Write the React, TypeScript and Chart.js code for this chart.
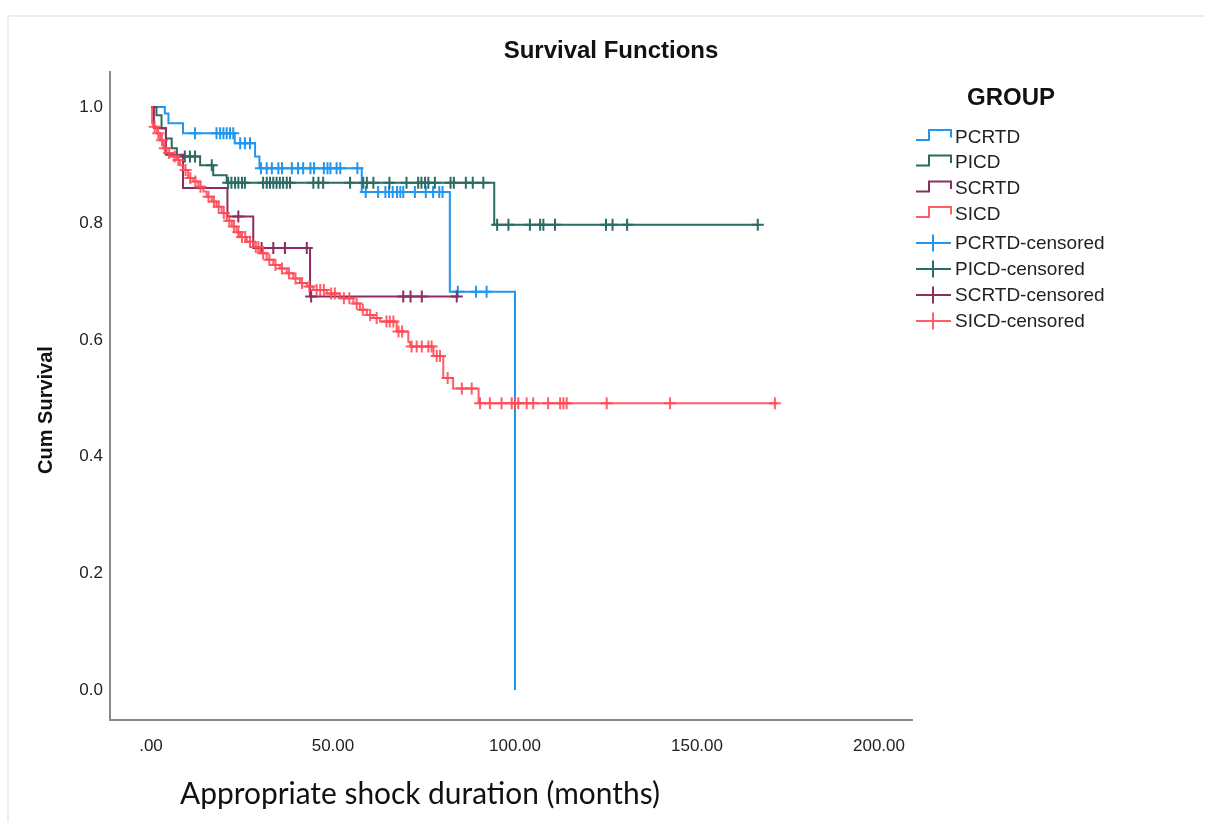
import React, { useEffect, useRef } from "react";
import { Chart, registerables } from "chart.js";

Chart.register(...registerables);

// ---------- data ----------
const TITLE = "Survival Functions";
const X_TITLE = "Appropriate shock duration (months)";
const Y_TITLE = "Cum Survival";
const LEGEND_TITLE = "GROUP";

const X_TICKS = [0, 50, 100, 150, 200];
const Y_TICKS = [0, 0.2, 0.4, 0.6, 0.8, 1.0];

const GROUPS = ["PCRTD", "PICD", "SCRTD", "SICD"];

// PCRTD
const PCRTD_TIMES = [0, 3.8, 4.8, 8.8, 23.0, 28.6, 29.8, 57.9, 82.1, 100.0];
const PCRTD_SURV = [1, 0.989, 0.972, 0.955, 0.938, 0.915, 0.895, 0.854, 0.683, 0];
const PCRTD_CENSORED = [
  12.1, 18.0, 19.0, 19.9, 20.8, 21.7, 22.6, 24.5, 25.8, 27.2, 30.2, 31.8, 33.2, 35.0, 36.0,
  38.7, 40.4, 41.8, 43.8, 44.8, 47.5, 48.5, 49.3, 51.0, 52.0, 56.7, 59.0, 62.4, 64.4, 65.4,
  66.4, 67.6, 68.5, 69.3, 72.5, 75.5, 77.5, 79.2, 80.1, 84.3, 89.3, 92.2,
];

// PICD
const PICD_TIMES = [0, 1.5, 2.9, 4.1, 5.7, 7.1, 13.5, 17.1, 20.8, 94.3, 166.7];
const PICD_SURV = [1, 0.986, 0.963, 0.946, 0.929, 0.915, 0.9, 0.883, 0.87, 0.798, 0.798];
const PICD_CENSORED = [
  9.3, 10.7, 12.1, 16.7, 21.2, 22.1, 23.1, 24.0, 25.0, 25.8, 30.8, 31.8, 32.7, 33.6, 34.5,
  35.4, 36.3, 37.3, 38.2, 44.6, 46.0, 47.3, 54.7, 58.3, 59.3, 61.1, 65.5, 70.2, 73.4, 74.3,
  75.3, 76.2, 78.0, 82.3, 83.2, 86.5, 88.4, 91.3, 95.1, 98.2, 104.1, 106.9, 107.8, 111.0,
  125.0, 126.8, 130.8, 166.7,
];

// SCRTD
const SCRTD_TIMES = [0, 0.8, 4.1, 8.8, 21.0, 28.1, 43.7, 84.0];
const SCRTD_SURV = [1, 0.964, 0.918, 0.861, 0.812, 0.758, 0.675, 0.675];
const SCRTD_CENSORED = [24.0, 30.4, 33.6, 36.8, 42.8, 44.0, 69.3, 71.3, 74.4, 84.0];

// SICD
const SICD_TIMES = [
  0, 0.3, 0.6, 1.6, 2.5, 3.4, 4.3, 5.7, 7.1, 8.0, 8.9, 10.2, 11.6, 13.0, 14.4, 15.3, 16.7,
  18.0, 19.4, 20.8, 22.2, 23.5, 24.5, 26.3, 28.1, 30.0, 31.8, 33.6, 35.4, 37.3, 39.1, 40.9,
  42.8, 44.6, 48.3, 51.9, 55.6, 57.4, 59.3, 61.1, 62.9, 67.5, 70.7, 71.2, 77.6, 80.3, 83.0,
  90.0, 172.0,
];
const SICD_SURV = [
  1, 0.972, 0.966, 0.955, 0.943, 0.929, 0.921, 0.915, 0.909, 0.9, 0.892, 0.878, 0.872, 0.863,
  0.855, 0.846, 0.838, 0.829, 0.818, 0.805, 0.795, 0.785, 0.777, 0.769, 0.76, 0.749, 0.738,
  0.729, 0.723, 0.715, 0.706, 0.698, 0.692, 0.686, 0.68, 0.672, 0.663, 0.652, 0.643, 0.638,
  0.632, 0.615, 0.597, 0.589, 0.573, 0.535, 0.517, 0.492, 0.492,
];
const SICD_CENSORED = [
  1.0, 2.0, 3.0, 3.8, 5.0, 6.5, 7.5, 9.5, 10.8, 12.2, 13.6, 15.8, 17.3, 18.6, 20.0, 21.5,
  22.8, 24.0, 25.0, 25.9, 27.2, 28.8, 29.5, 30.8, 32.5, 34.2, 36.0, 37.9, 39.7, 41.5, 43.5,
  45.5, 46.5, 47.5, 49.5, 50.5, 53.0, 54.5, 56.5, 58.2, 60.2, 62.0, 64.7, 65.6, 66.6, 68.0,
  69.0, 71.6, 73.0, 74.4, 76.2, 77.1, 78.5, 79.4, 81.5, 85.4, 88.1, 90.4, 93.1, 96.3, 99.1,
  100.0, 100.9, 103.2, 105.0, 109.1, 112.4, 113.3, 114.2, 125.2, 142.6, 171.4,
];

// ---------- styles ----------
const COLORS = ["#2196ee", "#2a6b63", "#8e2d5f", "rgba(255,72,84,0.88)"];

const SERIES = [
  { times: PCRTD_TIMES, surv: PCRTD_SURV, cens: PCRTD_CENSORED },
  { times: PICD_TIMES, surv: PICD_SURV, cens: PICD_CENSORED },
  { times: SCRTD_TIMES, surv: SCRTD_SURV, cens: SCRTD_CENSORED },
  { times: SICD_TIMES, surv: SICD_SURV, cens: SICD_CENSORED },
];

function survAt(times: number[], surv: number[], t: number) {
  let v = surv[0];
  for (let i = 0; i < times.length; i++) {
    if (times[i] <= t) v = surv[i];
    else break;
  }
  return v;
}

const SANS = "'Liberation Sans', Arial, Helvetica, sans-serif";

const decorPlugin = {
  id: "decor",
  beforeDraw(chart: any) {
    const ctx = chart.ctx;
    ctx.save();
    ctx.fillStyle = "#ffffff";
    ctx.fillRect(0, 0, chart.width, chart.height);
    ctx.strokeStyle = "#eeeeee";
    ctx.lineWidth = 2;
    ctx.beginPath();
    ctx.moveTo(8, 822);
    ctx.lineTo(8, 16);
    ctx.lineTo(1205, 16);
    ctx.stroke();
    ctx.restore();
  },
  afterDraw(chart: any) {
    const ctx = chart.ctx;
    ctx.save();
    ctx.fillStyle = "#111111";
    ctx.textBaseline = "middle";

    // title
    ctx.textAlign = "center";
    ctx.font = `bold 24px ${SANS}`;
    ctx.fillText(TITLE, 611, 51);

    // y title
    ctx.save();
    ctx.translate(46, 410);
    ctx.rotate(-Math.PI / 2);
    ctx.font = `bold 20px ${SANS}`;
    ctx.fillText(Y_TITLE, 0, 0);
    ctx.restore();

    // x title (Calibri-like)
    ctx.textAlign = "left";
    ctx.font = "28px Lato, 'Open Sans', sans-serif";
    const w = ctx.measureText(X_TITLE).width;
    const size = (28 * 480) / w;
    ctx.font = `${size.toFixed(1)}px Lato, 'Open Sans', sans-serif`;
    ctx.fillText(X_TITLE, 180, 794);

    // legend
    ctx.textAlign = "center";
    ctx.font = `bold 24px ${SANS}`;
    ctx.fillText(LEGEND_TITLE, 1011, 98);

    const rows = [136.5, 162, 188, 213.5, 243, 269, 295, 321];
    const labels = [...GROUPS, ...GROUPS.map((g) => g + "-censored")];
    ctx.font = `19px ${SANS}`;
    ctx.textAlign = "left";
    labels.forEach((lab, i) => {
      const y = rows[i];
      const col = COLORS[i % 4];
      ctx.strokeStyle = col;
      ctx.lineWidth = 2;
      ctx.beginPath();
      if (i < 4) {
        ctx.moveTo(916, y + 3.5);
        ctx.lineTo(929, y + 3.5);
        ctx.lineTo(929, y - 6.5);
        ctx.lineTo(951, y - 6.5);
        ctx.lineTo(951, y + 1);
      } else {
        ctx.moveTo(916, y);
        ctx.lineTo(951, y);
        ctx.moveTo(933, y - 8.5);
        ctx.lineTo(933, y + 8.5);
      }
      ctx.stroke();
      ctx.fillStyle = "#222222";
      ctx.fillText(lab, 955, y + 1);
    });
    ctx.restore();
  },
};

export default function App() {
  const ref = useRef<HTMLCanvasElement | null>(null);

  useEffect(() => {
    if (!ref.current) return;
    const datasets: any[] = [];
    SERIES.forEach((s, i) => {
      datasets.push({
        type: "line",
        label: GROUPS[i],
        data: s.times.map((t, k) => ({ x: t, y: s.surv[k] })),
        borderColor: COLORS[i],
        borderWidth: 2,
        stepped: "before",
        pointRadius: 0,
        fill: false,
        order: 4 - i,
      });
    });
    SERIES.forEach((s, i) => {
      datasets.push({
        type: "line",
        label: GROUPS[i] + "-censored",
        data: s.cens.map((t) => ({ x: t, y: survAt(s.times, s.surv, t) })),
        showLine: false,
        borderColor: COLORS[i],
        backgroundColor: COLORS[i],
        pointStyle: "cross",
        pointRadius: 6,
        pointBorderWidth: 2,
        pointBorderColor: COLORS[i],
        order: 4 - i,
      });
    });

    const chart = new Chart(ref.current, {
      type: "line",
      data: { datasets },
      plugins: [decorPlugin],
      options: {
        animation: false,
        responsive: false,
        maintainAspectRatio: false,
        events: [],
        layout: { padding: { left: 0, top: 72, right: 293, bottom: 0 } },
        plugins: {
          legend: { display: false },
          title: { display: false },
          tooltip: { enabled: false },
        },
        scales: {
          x: {
            type: "linear",
            min: -11.26,
            max: 209.07,
            afterBuildTicks: (scale: any) => {
              scale.ticks = X_TICKS.map((v) => ({ value: v }));
            },
            afterFit: (scale: any) => {
              scale.height = 102;
            },
            ticks: {
              callback: (v: any) => (Number(v) === 0 ? ".00" : Number(v).toFixed(2)),
              font: { family: SANS, size: 17 },
              color: "#222222",
              padding: 16,
              maxRotation: 0,
              autoSkip: false,
            },
            grid: { display: true, drawOnChartArea: false, drawTicks: false },
            border: { display: true, color: "#8a8a8a", width: 2 },
          },
          y: {
            type: "linear",
            min: -0.0515,
            max: 1.06,
            afterBuildTicks: (scale: any) => {
              scale.ticks = Y_TICKS.map((v) => ({ value: v }));
            },
            afterFit: (scale: any) => {
              scale.width = 110;
            },
            ticks: {
              callback: (v: any) => Number(v).toFixed(1),
              font: { family: SANS, size: 17 },
              color: "#222222",
              padding: 7,
              autoSkip: false,
            },
            grid: { display: true, drawOnChartArea: false, drawTicks: false },
            border: { display: true, color: "#8a8a8a", width: 2 },
          },
        },
      },
    });
    return () => chart.destroy();
  }, []);

  return (
    <div style={{ position: "absolute", left: 0, top: 0, width: 1205, height: 822, background: "#fff" }}>
      <canvas ref={ref} width={1205} height={822} style={{ display: "block" }} />
    </div>
  );
}
